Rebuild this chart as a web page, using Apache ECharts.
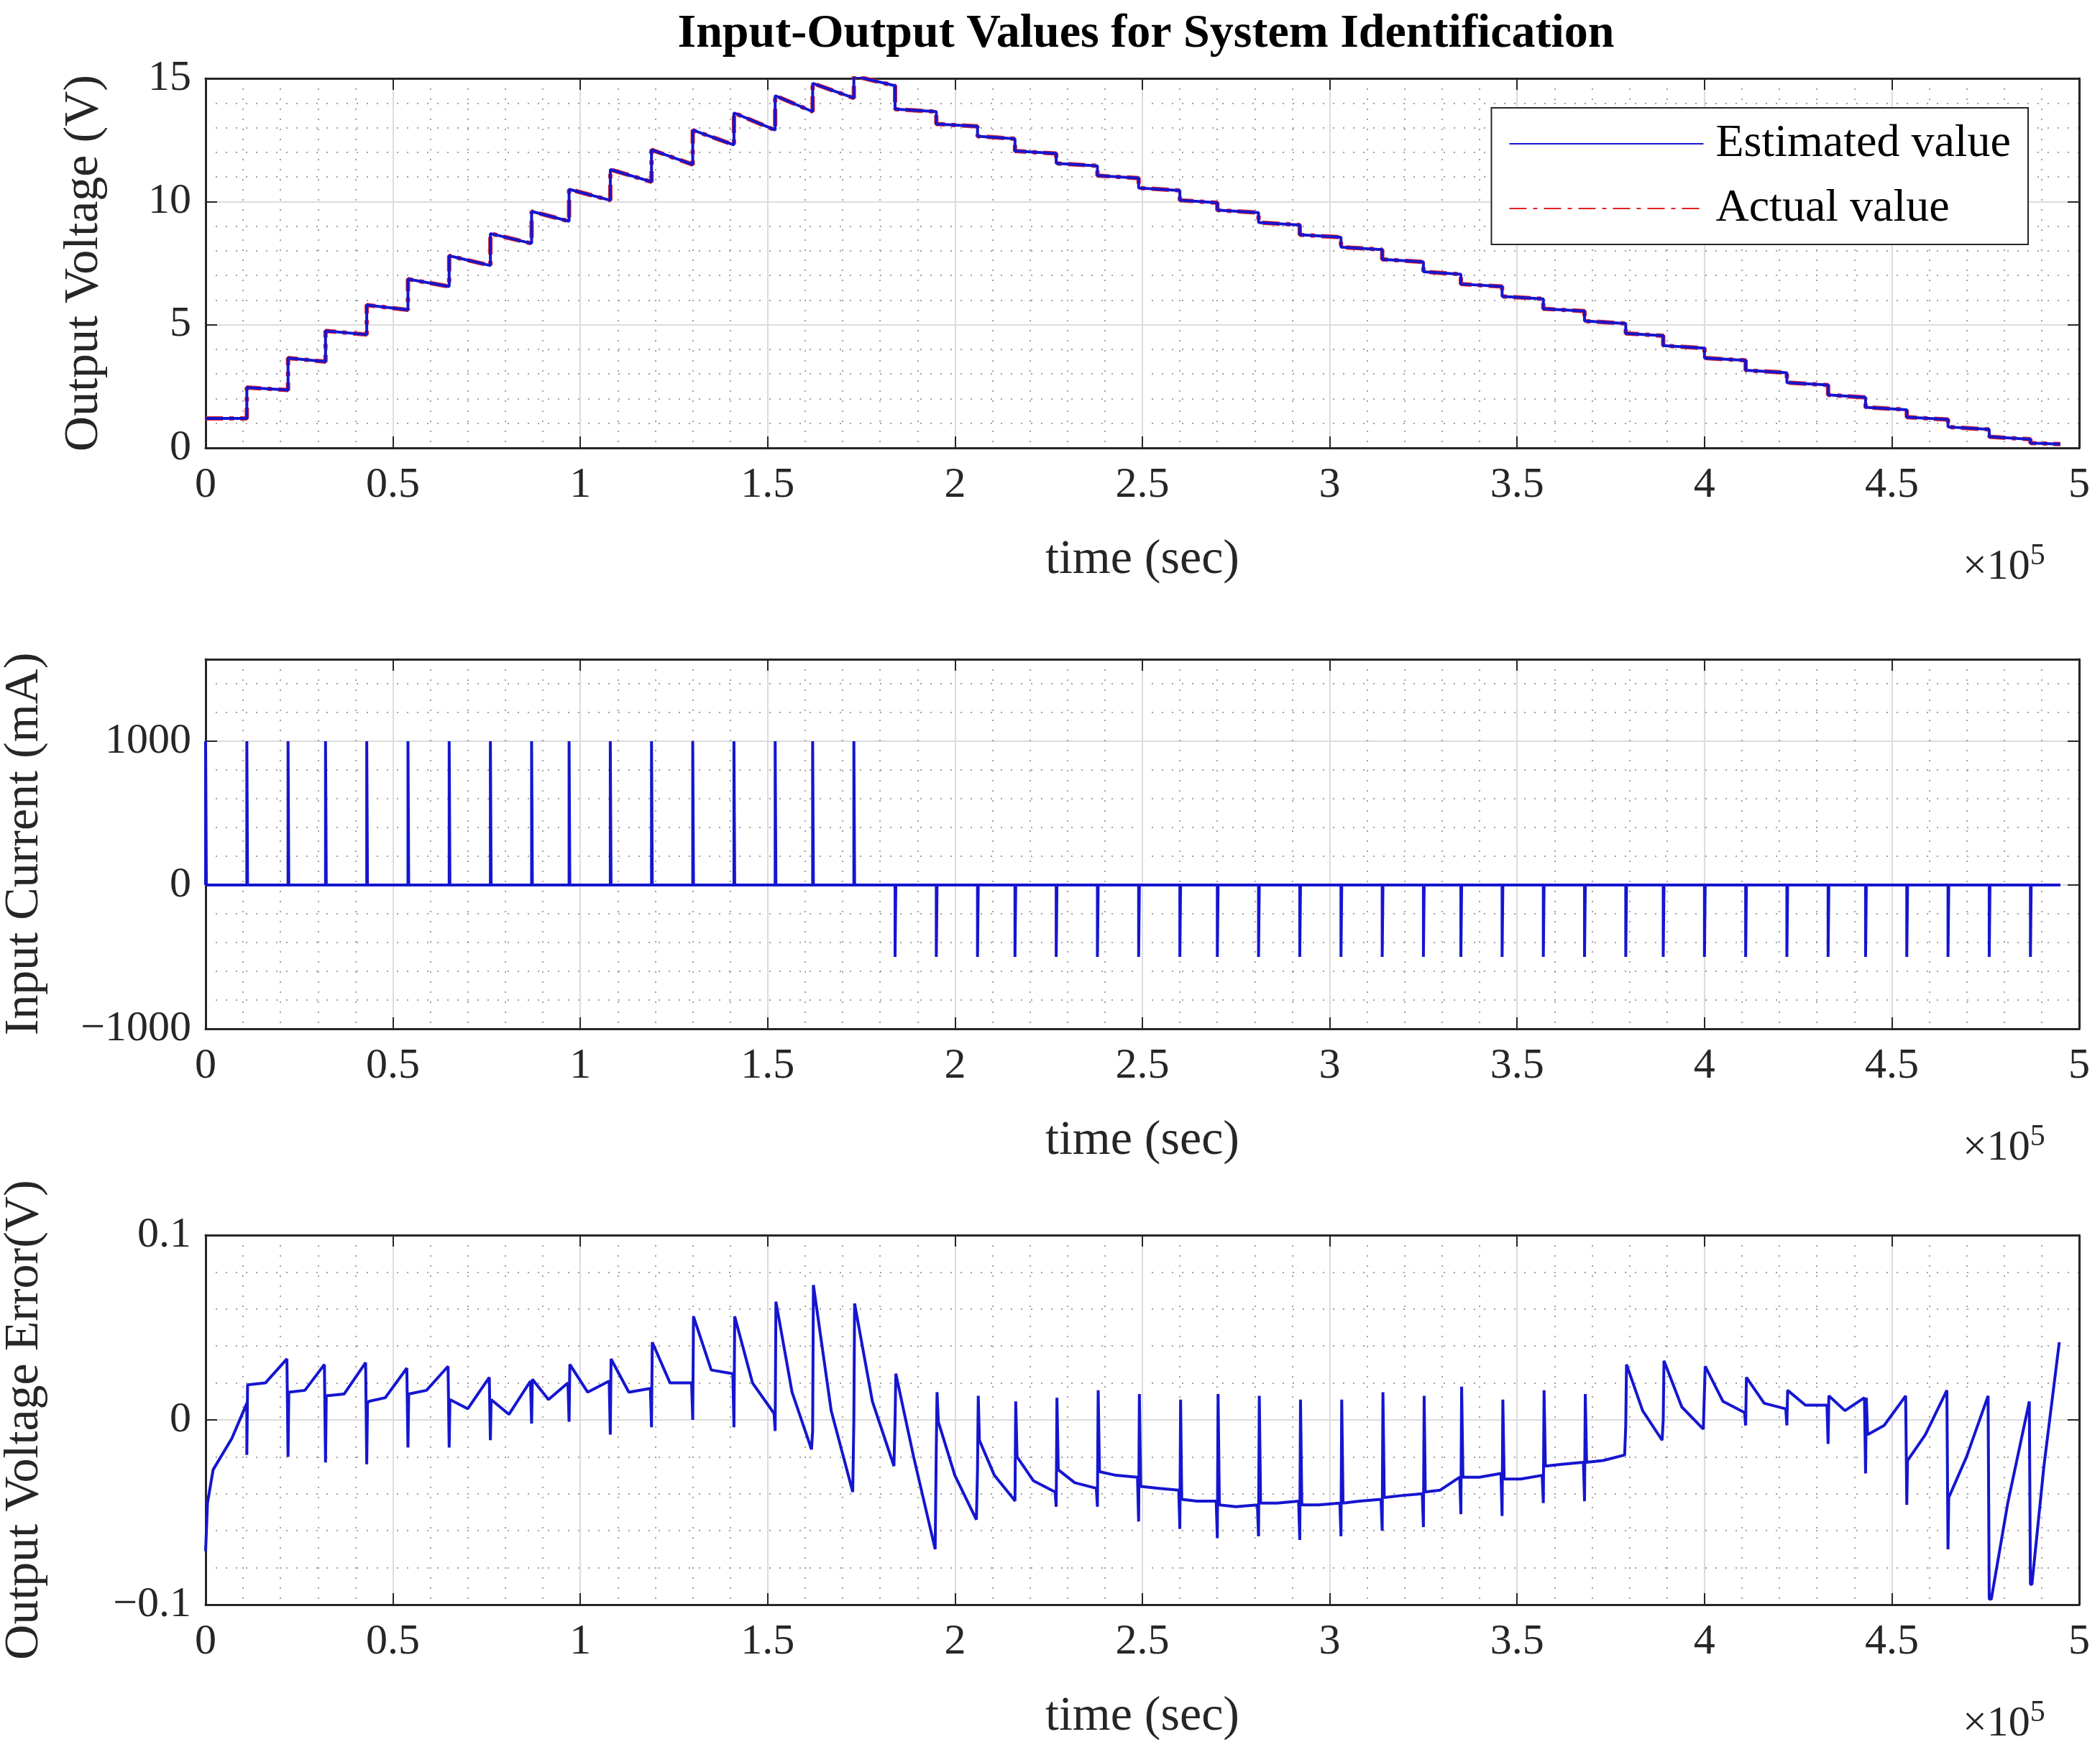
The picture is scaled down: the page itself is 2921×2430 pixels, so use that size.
<!DOCTYPE html>
<html><head><meta charset="utf-8">
<script src="https://cdn.jsdelivr.net/npm/echarts@6/dist/echarts.min.js"></script>
<style>html,body{margin:0;padding:0;background:#fff}#c{width:2921px;height:2430px}</style>
</head><body><div id="c"></div>
<script>
// time in units of 1e5 s
const pulseT = [0.11,0.22,0.32,0.43,0.54,0.65,0.76,0.87,0.97,1.08,1.19,1.30,1.41,1.52,1.62,1.73,
  1.84,1.95,2.06,2.16,2.27,2.38,2.49,2.60,2.70,2.81,2.92,3.03,3.14,3.25,3.35,3.46,3.57,3.68,3.79,
  3.89,4.00,4.11,4.22,4.33,4.43,4.54,4.65,4.76,4.87];
const endT = 4.95;
// output voltage per segment (segment 0 before first pulse)
const vStart = [1.2,2.45,3.65,4.75,5.8,6.85,7.8,8.7,9.6,10.5,11.3,12.1,12.9,13.6,14.3,14.8,15.1,
  13.75,13.15,12.65,12.05,11.55,11.05,10.55,10.05,9.65,9.15,8.65,8.15,7.65,7.15,6.65,6.15,5.65,5.15,
  4.65,4.15,3.65,3.15,2.65,2.15,1.65,1.25,0.85,0.45,0.2];
const vEnd = [1.2,2.35,3.5,4.6,5.6,6.55,7.4,8.3,9.2,10.05,10.8,11.5,12.3,12.9,13.65,14.2,14.7,
  13.65,13.05,12.55,11.95,11.45,10.95,10.45,9.95,9.55,9.05,8.55,8.05,7.55,7.05,6.55,6.05,5.55,5.05,
  4.55,4.05,3.55,3.05,2.55,2.05,1.55,1.15,0.75,0.35,0.15];
// input current pulses (mA), first at t=0
const currentT = [0].concat(pulseT);
const currentAmp = [1000,1000,1000,1000,1000,1000,1000,1000,1000,1000,1000,1000,1000,1000,1000,1000,1000,
  -500,-500,-500,-500,-500,-500,-500,-500,-500,-500,-500,-500,-500,-500,-500,-500,-500,-500,-500,
  -500,-500,-500,-500,-500,-500,-500,-500,-500,-500];
// output voltage error
const errInit = [[0,-0.071],[0.005,-0.045],[0.02,-0.027],[0.07,-0.01],[0.11,0.009]];
const errLo  = [-0.019,-0.020,-0.023,-0.024,-0.015,-0.015,-0.011,-0.002,-0.001,-0.008,-0.004,0.000,-0.004,-0.006,-0.006,0.000,
  0.000,-0.015,-0.027,-0.044,-0.047,-0.047,-0.055,-0.059,-0.064,-0.063,-0.065,-0.063,-0.060,-0.058,-0.051,-0.052,-0.045,-0.044,
  -0.003,0.000,-0.005,-0.003,-0.003,-0.013,-0.029,-0.046,-0.070,-0.097,-0.089];
const errHi  = [0.019,0.015,0.013,0.009,0.014,0.011,0.011,0.022,0.030,0.033,0.042,0.056,0.056,0.064,0.073,0.063,
  0.025,0.015,0.013,0.010,0.012,0.016,0.014,0.011,0.014,0.013,0.011,0.011,0.015,0.013,0.018,0.011,0.016,0.014,
  0.030,0.032,0.029,0.023,0.016,0.013,0.012,-0.022,-0.042,-0.097,-0.089];
const errStart = [0.019,0.015,0.013,0.010,0.014,0.011,0.011,0.022,0.030,0.033,0.042,0.056,0.056,0.064,0.073,0.063,
  0.025,-0.001,-0.011,-0.020,-0.027,-0.028,-0.036,-0.043,-0.046,-0.045,-0.046,-0.045,-0.042,-0.039,-0.031,-0.032,-0.025,-0.023,
  0.030,0.032,0.029,0.023,0.016,0.013,-0.008,-0.022,-0.042,-0.097,-0.089];
const errMid = [0.020,0.016,0.014,0.012,0.016,0.006,0.003,0.011,0.015,0.015,0.020,0.027,0.020,0.015,0.005,0.010,
  -0.020,-0.030,-0.030,-0.033,-0.034,-0.030,-0.037,-0.044,-0.047,-0.045,-0.046,-0.044,-0.041,-0.038,-0.031,-0.032,-0.024,-0.022,
  0.005,0.007,0.010,0.009,0.008,0.005,-0.003,-0.008,-0.020,-0.045,-0.025];
const errEnd = [0.033,0.030,0.031,0.028,0.029,0.023,0.021,0.020,0.021,0.017,0.020,0.025,0.0035,-0.016,-0.039,-0.025,
  -0.070,-0.054,-0.043,-0.039,-0.037,-0.031,-0.038,-0.044,-0.046,-0.044,-0.045,-0.043,-0.040,-0.031,-0.029,-0.030,-0.023,-0.019,
  -0.011,-0.005,0.004,0.006,0.008,0.012,0.013,0.016,0.013,0.010,0.042];

// build series
const segT = [0].concat(pulseT);
const voltPts = [];
for (let i = 0; i < segT.length; i++) {
  const t1 = i < pulseT.length ? pulseT[i] : endT;
  voltPts.push([segT[i], vStart[i]]);
  voltPts.push([t1, vEnd[i]]);
}
const curPts = [[0,0]];
for (let i = 0; i < currentT.length; i++) {
  curPts.push([currentT[i],0],[currentT[i],currentAmp[i]],[currentT[i]+0.002,0]);
}
curPts.push([endT,0]);
const errPts = errInit.slice();
for (let i = 0; i < pulseT.length; i++) {
  const t0 = pulseT[i], t1 = i + 1 < pulseT.length ? pulseT[i+1] : endT, d = t1 - t0;
  errPts.push([t0, errLo[i]], [t0 + 0.002, errHi[i]], [t0 + 0.05*d, errStart[i]],
              [t0 + 0.45*d, errMid[i]], [t1 - 0.003, errEnd[i]]);
}

const FONT = 'Liberation Serif';
const AX = '#262626';
const tops = [109, 917, 1718], H = 514;
function xAx(gi, top) {
  return {
    type:'value', gridIndex:gi, min:0, max:5, interval:0.5, position: top ? 'top':'bottom',
    name: top ? '' : 'time (sec)', nameLocation:'middle', nameGap:122,
    nameTextStyle:{fontFamily:FONT, fontSize:68, color:'#262626'},
    axisLine:{show:true, onZero:false, lineStyle:{color:AX, width:3}},
    axisTick:{show:true, inside:true, length:16, lineStyle:{color:AX, width:2}},
    minorTick:{show:true, splitNumber:5, length:0},
    axisLabel:{show:!top, fontFamily:FONT, fontSize:60, color:'#262626', margin:22,
      formatter:v => String(v)},
    splitLine:{show:!top, lineStyle:{color:'#dcdcdc', width:2}},
    minorSplitLine:{show:!top, lineStyle:{color:'#a0a0a0', width:2, type:[2,12]}}
  };
}
function yAx(gi, right, opt) {
  return Object.assign({
    type:'value', gridIndex:gi, position: right ? 'right':'left',
    nameLocation:'middle', nameTextStyle:{fontFamily:FONT, fontSize:68, color:'#262626'},
    axisLine:{show:true, onZero:false, lineStyle:{color:AX, width:3}},
    axisTick:{show:true, inside:true, length:16, lineStyle:{color:AX, width:2}},
    minorTick:{show:true, splitNumber:5, length:0},
    axisLabel:{show:!right, fontFamily:FONT, fontSize:60, color:'#262626', margin:20,
      showMaxLabel: gi !== 1,
      formatter:v => (v < 0 ? '\u2212' + String(-v) : String(v))},
    splitLine:{show:!right, lineStyle:{color:'#dcdcdc', width:2}},
    minorSplitLine:{show:!right, lineStyle:{color:'#a0a0a0', width:2, type:[2,12]}}
  }, opt);
}
const yOpts = [
  {min:0, max:15, interval:5, name:'Output Voltage (V)', nameGap:135},
  {min:-1000, max:1570, interval:1000, name:'Input Current (mA)', nameGap:218},
  {min:-0.1, max:0.1, interval:0.1, name:'Output Voltage Error(V)', nameGap:218}
];
const xAxes = [], yAxes = [];
for (let g = 0; g < 3; g++) {
  xAxes.push(xAx(g,false), xAx(g,true));
  const o = yOpts[g];
  yAxes.push(yAx(g,false,o), yAx(g,true,{min:o.min,max:o.max,interval:o.interval,name:''}));
}
const graphics = [];
for (let g = 0; g < 3; g++) {
  graphics.push({type:'text', left:2730, top:tops[g]+H+130, style:{
    text:'{a|\u00d710}{b|5}', rich:{a:{fontFamily:FONT,fontSize:60,fill:'#262626'},
    b:{fontFamily:FONT,fontSize:42,fill:'#262626',verticalAlign:'top',padding:[0,0,30,0]}}}});
}
const chart = echarts.init(document.getElementById('c'));
chart.setOption({
  animation:false, backgroundColor:'#fff',
  title:{text:'Input-Output Values for System Identification', left:1589, textAlign:'center', top:10,
    textStyle:{fontFamily:FONT, fontSize:66, fontWeight:'bold', color:'#000'}},
  grid: tops.map(t => ({left:286, right:29, top:t, height:H, containLabel:false, outerBoundsMode:'none'})),
  xAxis: xAxes, yAxis: yAxes,
  legend:{data:['Estimated value','Actual value'], orient:'vertical', right:100, top:150,
    backgroundColor:'#fff', borderColor:'#262626', borderWidth:2, padding:[18,24,18,24], itemGap:26,
    itemWidth:270, itemHeight:20, itemStyle:{opacity:0},
    textStyle:{fontFamily:FONT, fontSize:64, color:'#000', padding:[0,0,0,12]}},
  graphic: graphics,
  series:[
    {name:'Actual value', type:'line', xAxisIndex:0, yAxisIndex:0, data:voltPts, symbol:'none',
      lineStyle:{color:'#e02020', width:6, type:[24,9,6,9]}, itemStyle:{color:'#e02020'}, z:2},
    {name:'Estimated value', type:'line', xAxisIndex:0, yAxisIndex:0, data:voltPts, symbol:'none',
      lineStyle:{color:'#1515d0', width:4}, itemStyle:{color:'#1515d0'}, z:3},
    {type:'line', xAxisIndex:2, yAxisIndex:2, data:curPts, symbol:'none',
      lineStyle:{color:'#1515d0', width:4}},
    {type:'line', xAxisIndex:4, yAxisIndex:4, data:errPts, symbol:'none',
      lineStyle:{color:'#1515d0', width:4}}
  ]
});
</script></body></html>
